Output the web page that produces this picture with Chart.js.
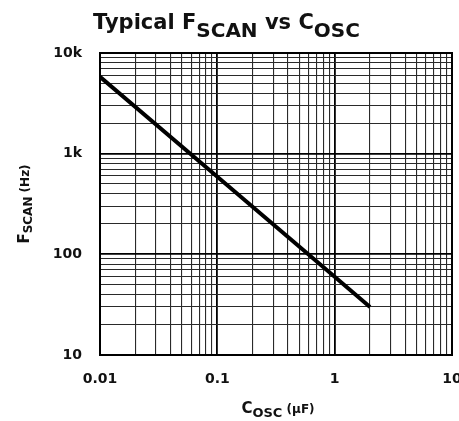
<!DOCTYPE html>
<html>
<head>
<meta charset="utf-8">
<script src="https://cdn.jsdelivr.net/npm/chart.js@4"></script>
<style>
  html, body { margin: 0; padding: 0; background: #fff; }
  #wrap { width: 459px; height: 421px; }
</style>
</head>
<body>
<div id="wrap"><canvas id="fscan"></canvas></div>
<script>
// values
const capUF = [0.01, 0.1, 1, 2];
const fscanHz = [5800, 590, 60, 30];

// axis ranges and labelled ticks
const xMajor = [0.01, 0.1, 1, 10];
const xMajorLabels = ['0.01', '0.1', '1', '10'];
const yMajor = [10, 100, 1000, 10000];
const yMajorLabels = ['10', '100', '1k', '10k'];

const FONT = 'DejaVu Sans';
const INK = '#111';

function isMajor(v, majors) {
  return majors.some(m => Math.abs(v / m - 1) < 1e-6);
}

// 1..9 in every decade between the first and last major tick
function logTicks(majors) {
  let out = [];
  for (let i = 0; i < majors.length - 1; i++) {
    for (let k = 1; k < 10; k++) out.push({ value: majors[i] * k });
  }
  out.push({ value: majors[majors.length - 1] });
  return out;
}

// draw text made of pieces (for the subscripts)
function richText(ctx, parts, cx, y) {
  let total = 0;
  parts.forEach(p => {
    ctx.font = 'bold ' + p.size + 'px "' + FONT + '"';
    p.w = ctx.measureText(p.t).width;
    total += p.w;
  });
  let x = cx - total / 2;
  parts.forEach(p => {
    ctx.font = 'bold ' + p.size + 'px "' + FONT + '"';
    ctx.fillText(p.t, x, y + (p.dy || 0));
    x += p.w;
  });
}

const labelsPlugin = {
  id: 'labels',
  afterDraw(chart) {
    const ctx = chart.ctx;
    const a = chart.chartArea;
    ctx.save();
    // frame
    ctx.strokeStyle = '#000';
    ctx.lineWidth = 2;
    ctx.strokeRect(a.left, a.top, a.right - a.left, a.bottom - a.top);

    ctx.fillStyle = INK;
    ctx.textAlign = 'left';
    ctx.textBaseline = 'alphabetic';
    // title
    richText(ctx, [
      { t: 'Typical F', size: 21 },
      { t: 'SCAN', size: 20, dy: 8 },
      { t: ' vs C', size: 21 },
      { t: 'OSC', size: 20, dy: 8 }
    ], chart.width / 2 - 3, 29);

    // x axis title
    richText(ctx, [
      { t: 'C', size: 15 },
      { t: 'OSC', size: 13, dy: 4 },
      { t: ' (\u00b5F)', size: 12 }
    ], (a.left + a.right) / 2 + 2, 413);

    // y axis title, rotated
    ctx.translate(29, (a.top + a.bottom) / 2);
    ctx.rotate(-Math.PI / 2);
    richText(ctx, [
      { t: 'F', size: 15 },
      { t: 'SCAN', size: 12, dy: 3 },
      { t: ' (Hz)', size: 12 }
    ], 0, 0);
    ctx.restore();
  }
};

const tickFont = { family: FONT, size: 14, weight: 'bold' };

new Chart(document.getElementById('fscan'), {
  type: 'line',
  data: {
    datasets: [{
      label: 'FSCAN',
      data: capUF.map((c, i) => ({ x: c, y: fscanHz[i] })),
      borderColor: '#000',
      borderWidth: 4,
      pointRadius: 0,
      tension: 0,
      fill: false
    }]
  },
  options: {
    responsive: true,
    maintainAspectRatio: false,
    animation: false,
    layout: { padding: { top: 53, left: 40, right: 7, bottom: 0 } },
    plugins: {
      legend: { display: false },
      title: { display: false },
      tooltip: { enabled: false }
    },
    scales: {
      x: {
        type: 'logarithmic',
        min: xMajor[0],
        max: xMajor[xMajor.length - 1],
        afterBuildTicks: s => { s.ticks = logTicks(xMajor); },
        afterFit: s => { s.height = 66; s.paddingLeft = 0; s.paddingRight = 0; },
        ticks: {
          autoSkip: false,
          maxRotation: 0,
          padding: 16,
          color: INK,
          font: tickFont,
          callback: v => {
            const i = xMajor.findIndex(m => isMajor(v, [m]));
            return i >= 0 ? xMajorLabels[i] : '';
          }
        },
        grid: {
          drawTicks: false,
          color: c => isMajor(c.tick.value, xMajor) ? '#000' : '#2a2a2a',
          lineWidth: c => isMajor(c.tick.value, xMajor) ? 1.8 : 1.1
        },
        border: { display: true, color: '#000', width: 2 }
      },
      y: {
        type: 'logarithmic',
        min: yMajor[0],
        max: yMajor[yMajor.length - 1],
        afterBuildTicks: s => { s.ticks = logTicks(yMajor); },
        afterFit: s => { s.width = 60; },
        ticks: {
          autoSkip: false,
          padding: 18,
          color: INK,
          font: tickFont,
          callback: v => {
            const i = yMajor.findIndex(m => isMajor(v, [m]));
            return i >= 0 ? yMajorLabels[i] : '';
          }
        },
        grid: {
          drawTicks: false,
          color: c => isMajor(c.tick.value, yMajor) ? '#000' : '#2a2a2a',
          lineWidth: c => isMajor(c.tick.value, yMajor) ? 1.8 : 1.1
        },
        border: { display: true, color: '#000', width: 2 }
      }
    }
  },
  plugins: [labelsPlugin]
});
</script>
</body>
</html>
